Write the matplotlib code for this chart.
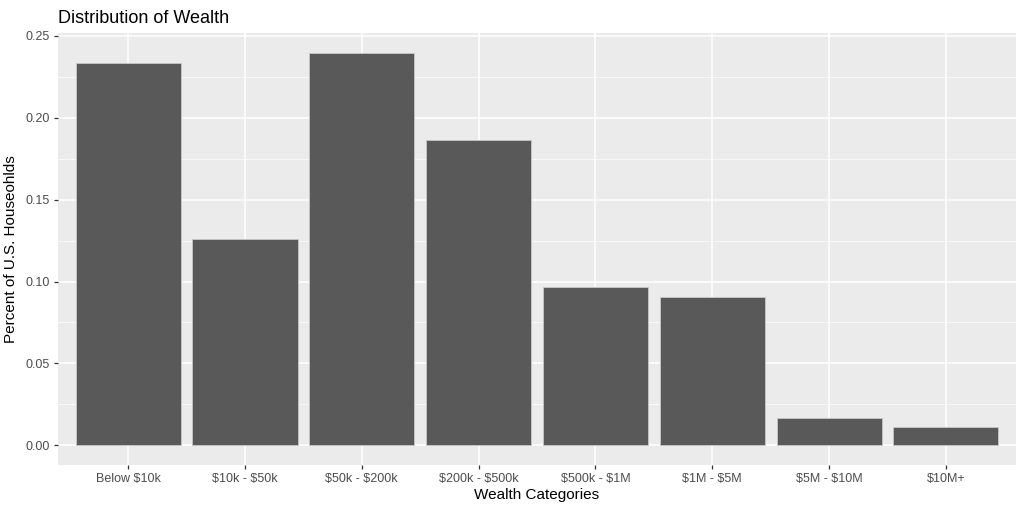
import matplotlib.pyplot as plt
import numpy as np

categories = ['Below $10k', '$10k - $50k', '$50k - $200k', '$200k - $500k',
              '$500k - $1M', '$1M - $5M', '$5M - $10M', '$10M+']
shares = [0.2334, 0.1260, 0.2397, 0.1862, 0.0968, 0.0908, 0.0168, 0.0113]
yticks = [0.00, 0.05, 0.10, 0.15, 0.20, 0.25]

plt.rcParams['font.family'] = ['Liberation Sans', 'DejaVu Sans']
plt.rcParams['text.parse_math'] = False

fig = plt.figure(figsize=(10.24, 5.12), dpi=100)
ax = fig.add_axes([58 / 1024, 47 / 512, 958 / 1024, 432 / 512])

x = np.arange(len(categories))
ax.bar(x, shares, width=0.9, color='#595959', edgecolor='#C8C8C8', linewidth=0.6, zorder=3)

# ggplot-like panel
ax.set_facecolor('#EBEBEB')
for s in ax.spines.values():
    s.set_visible(False)
ax.set_xlim(-0.6, len(categories) - 0.4)
ymax = max(shares) * 1.05
ax.set_ylim(-max(shares) * 0.05, ymax)
ax.set_yticks(yticks)
ax.set_yticklabels([f'{v:.2f}' for v in yticks])
ax.set_yticks([0.025, 0.075, 0.125, 0.175, 0.225], minor=True)
ax.set_xticks(x)
ax.set_xticklabels(categories)
ax.grid(True, which='major', color='white', linewidth=1.1, zorder=0)
ax.grid(True, which='minor', axis='y', color='white', linewidth=0.5, zorder=0)
ax.set_axisbelow(True)
ax.tick_params(which='major', length=3, width=0.9, color='#333333',
               labelcolor='#4D4D4D', labelsize=9, pad=3)
ax.tick_params(which='minor', length=0)

ax.set_xlabel('Wealth Categories', fontsize=11, color='black', labelpad=2)
ax.set_ylabel('Percent of U.S. Houseohlds', fontsize=11, color='black', labelpad=5)
ax.set_title('Distribution of Wealth', fontsize=13, loc='left', color='black', pad=7)

fig.savefig('out.png', dpi=100, facecolor='white')
